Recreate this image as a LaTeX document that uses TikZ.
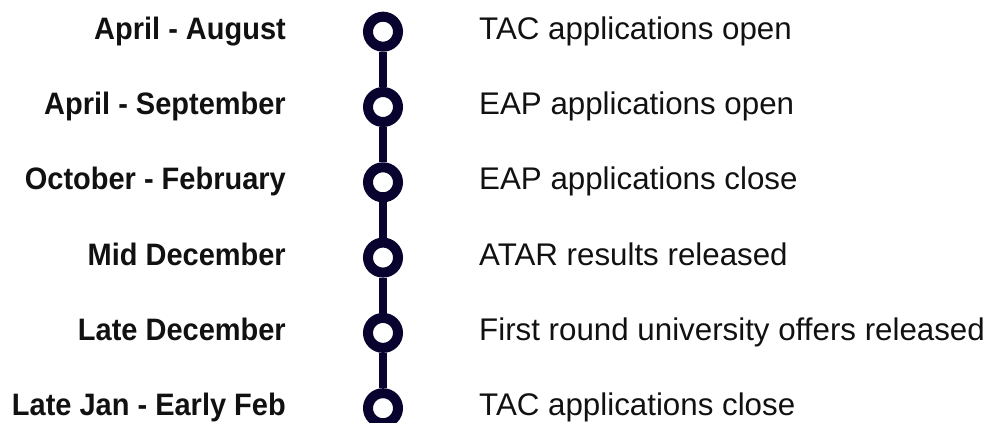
\documentclass[tikz,border=0pt]{standalone}
\usepackage{fontspec}
\setmainfont{Liberation Sans}
\definecolor{navy}{RGB}{8,2,46}
\definecolor{txt}{RGB}{17,17,17}
\newcommand{\nrw}[1]{\scalebox{0.935}[1]{#1}}
\begin{document}
\begin{tikzpicture}[x=1pt,y=1pt,
  ring/.style={circle,draw=navy,fill=white,line width=10pt,minimum size=30pt,inner sep=0pt},
  stem/.style={draw=navy,line width=8pt},
  datelbl/.style={anchor=base east,inner sep=0pt,text=txt,font=\fontsize{31}{36}\selectfont\bfseries},
  eventlbl/.style={anchor=base west,inner sep=0pt,text=txt,font=\fontsize{31.3}{36}\selectfont}]
\useasboundingbox (0,0) rectangle (997,423);
\foreach \i/\y in {1/391.3,2/316,3/240.7,4/165.4,5/90.1,6/14.8}{
  \node[ring] (c\i) at (383,\y) {};
}
\foreach \a/\b in {1/2,2/3,3/4,4/5,5/6}{
  \draw[stem] (c\a) -- (c\b);
}
\node[datelbl] (d1) at (286,383.7) {\nrw{April - August}};
\node[datelbl] (d2) at (286,308.4) {\nrw{April - September}};
\node[datelbl] (d3) at (286,233.1) {\nrw{October - February}};
\node[datelbl] (d4) at (286,157.8) {\nrw{Mid December}};
\node[datelbl] (d5) at (286,82.5) {\nrw{Late December}};
\node[datelbl] (d6) at (286,7.2) {\nrw{Late Jan - Early Feb}};
\node[eventlbl] (e1) at (479,383.7) {TAC applications open};
\node[eventlbl] (e2) at (479,308.4) {EAP applications open};
\node[eventlbl] (e3) at (479,233.1) {EAP applications close};
\node[eventlbl] (e4) at (479,157.8) {ATAR results released};
\node[eventlbl] (e5) at (479,82.5) {First round university offers released};
\node[eventlbl] (e6) at (479,7.2) {TAC applications close};
\end{tikzpicture}
\end{document}
